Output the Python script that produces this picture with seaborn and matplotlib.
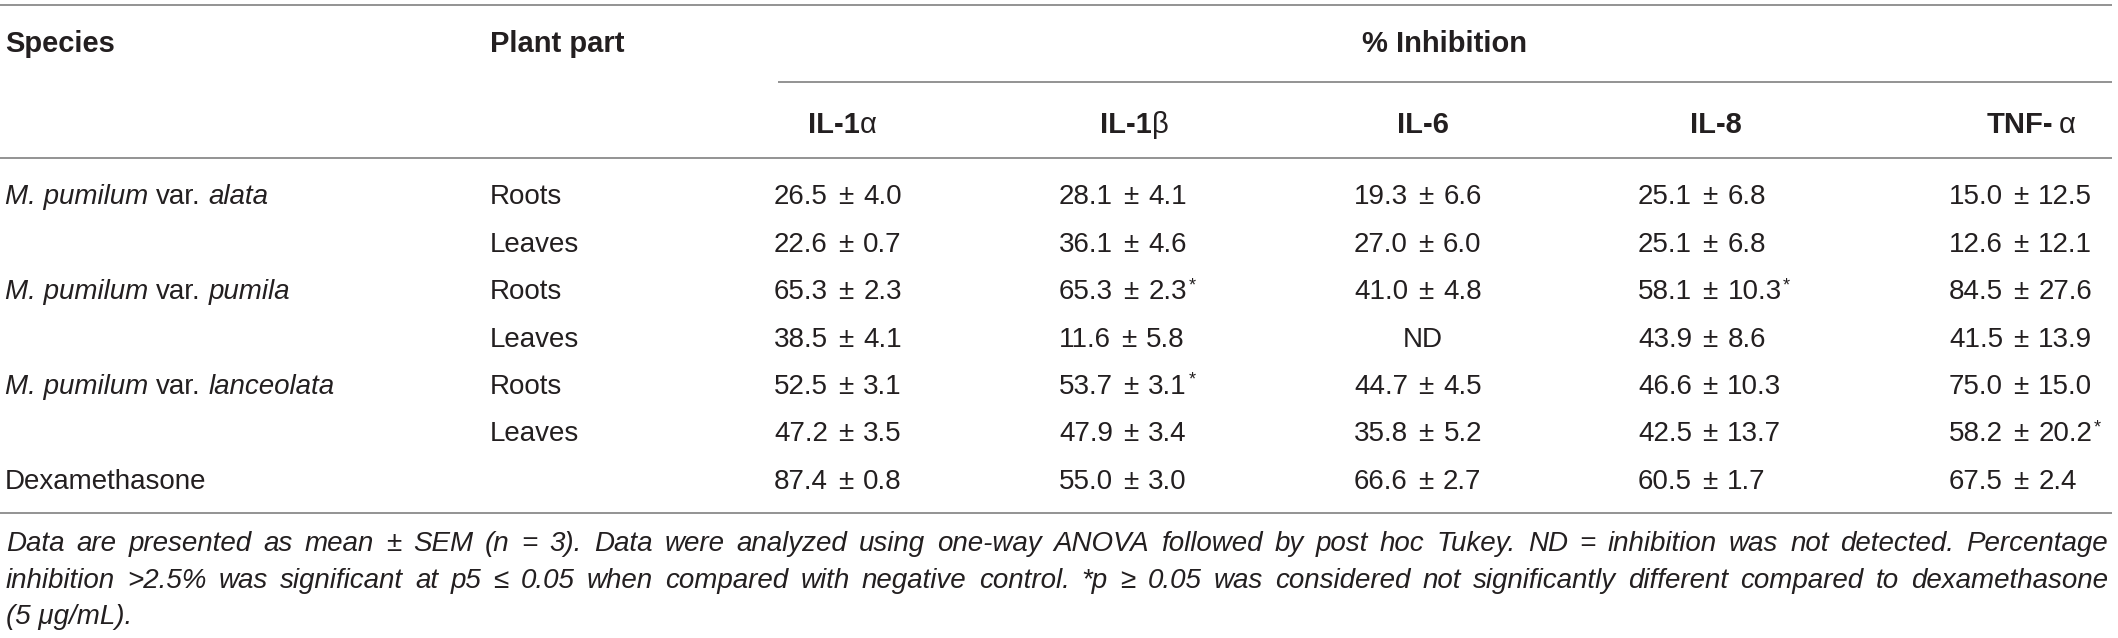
import numpy as np
import pandas as pd
import matplotlib
matplotlib.use("Agg")
import matplotlib.pyplot as plt
import seaborn as sns

# ---------------- data ----------------
species_prefix = "M. pumilum"
species_vars = ["alata", "pumila", "lanceolata"]
control_name = "Dexamethasone"
plant_parts = ["Roots", "Leaves", "Roots", "Leaves", "Roots", "Leaves", ""]
row_species = ["alata", "", "pumila", "", "lanceolata", "", "Dexamethasone"]

cytokines = ["IL-1", "IL-1", "IL-6", "IL-8", "TNF- "]
cytokine_greek = ["α", "β", "", "", "α"]

il1a_mean = [26.5, 22.6, 65.3, 38.5, 52.5, 47.2, 87.4]
il1a_sem = [4.0, 0.7, 2.3, 4.1, 3.1, 3.5, 0.8]
il1a_star = [0, 0, 0, 0, 0, 0, 0]

il1b_mean = [28.1, 36.1, 65.3, 11.6, 53.7, 47.9, 55.0]
il1b_sem = [4.1, 4.6, 2.3, 5.8, 3.1, 3.4, 3.0]
il1b_star = [0, 0, 1, 0, 1, 0, 0]

il6_mean = [19.3, 27.0, 41.0, np.nan, 44.7, 35.8, 66.6]
il6_sem = [6.6, 6.0, 4.8, np.nan, 4.5, 5.2, 2.7]
il6_star = [0, 0, 0, 0, 0, 0, 0]

il8_mean = [25.1, 25.1, 58.1, 43.9, 46.6, 42.5, 60.5]
il8_sem = [6.8, 6.8, 10.3, 8.6, 10.3, 13.7, 1.7]
il8_star = [0, 0, 1, 0, 0, 0, 0]

tnf_mean = [15.0, 12.6, 84.5, 41.5, 75.0, 58.2, 67.5]
tnf_sem = [12.5, 12.1, 27.6, 13.9, 15.0, 20.2, 2.4]
tnf_star = [0, 0, 0, 0, 0, 1, 0]

header_species = "Species"
header_part = "Plant part"
header_group = "% Inhibition"
not_detected = "ND"

footnote_lines = [
    "Data are presented as mean ± SEM (n = 3). Data were analyzed using one-way ANOVA followed by post hoc Tukey. ND = inhibition was not detected. Percentage",
    "inhibition >2.5% was significant at p5 ≤ 0.05 when compared with negative control. *p ≥ 0.05 was considered not significantly different compared to dexamethasone",
    "(5 μg/mL).",
]

means = [il1a_mean, il1b_mean, il6_mean, il8_mean, tnf_mean]
sems = [il1a_sem, il1b_sem, il6_sem, il8_sem, tnf_sem]
stars = [il1a_star, il1b_star, il6_star, il8_star, tnf_star]

records = []
for ci in range(len(cytokines)):
    for ri in range(len(plant_parts)):
        records.append(dict(col=ci, row=ri, mean=means[ci][ri],
                            sem=sems[ci][ri], star=stars[ci][ri]))
df = pd.DataFrame(records)

# ---------------- style ----------------
sns.set_theme(style="white")
plt.rcParams["font.family"] = ["Liberation Sans", "DejaVu Sans"]

W, H = 2118, 638
fig = plt.figure(figsize=(W / 100, H / 100), dpi=100)
ax = fig.add_axes([0, 0, 1, 1])
ax.set_xlim(0, W)
ax.set_ylim(H, 0)
ax.axis("off")
renderer = fig.canvas.get_renderer()

TXT = "#231f20"
LINE = "#8a8a8a"
BODY = 20
HEAD = 21
FOOT = 20

normal = dict(fontsize=BODY, color=TXT)
italic = dict(fontsize=BODY, color=TXT, style="italic")
bold = dict(fontsize=HEAD, color=TXT, weight="bold")
bold_reg = dict(fontsize=HEAD, color=TXT)
foot = dict(fontsize=FOOT, color=TXT, style="italic")


def measure(txt, **kw):
    t = ax.text(0, 0, txt, **kw)
    w = t.get_window_extent(renderer).width
    t.remove()
    return w


def draw_runs(x, y, runs, ha="left"):
    widths = []
    for r in runs:
        if isinstance(r, (int, float)):
            widths.append(r)
        else:
            widths.append(measure(r[0], **r[1]))
    total = sum(widths)
    if ha == "center":
        x = x - total / 2
    for r, w in zip(runs, widths):
        if not isinstance(r, (int, float)):
            ax.text(x, y, r[0], ha="left", va="baseline", **r[1])
        x += w
    return x


# ---------------- rules ----------------
x_left, x_right = 0, 2112
ax.hlines([5, 158, 513], x_left, x_right, color=LINE, lw=1.3)
ax.hlines(82, 778, x_right, color=LINE, lw=1.3)

# ---------------- headers ----------------
draw_runs(5, 52, [(header_species, bold)])
draw_runs(490, 52, [(header_part, bold)])
draw_runs(1445, 52, [(header_group, bold)], ha="center")

col_centers = [842, 1134, 1423, 1716, 2031]
for cx, name, g in zip(col_centers, cytokines, cytokine_greek):
    runs = [(name.strip(), bold)]
    if name.endswith(" "):
        runs.append(6)
    if g:
        runs.append((g, bold_reg))
    draw_runs(cx, 133, runs, ha="center")

# ---------------- body ----------------
row_y0, row_step = 204.5, 47.35
space = 7.8
for ri, (sp, part) in enumerate(zip(row_species, plant_parts)):
    y = row_y0 + ri * row_step
    if sp == control_name:
        draw_runs(5, y, [(sp, normal)])
    elif sp:
        draw_runs(5, y, [(species_prefix, italic), space, ("var.", normal),
                         space, (sp, italic)])
    if part:
        draw_runs(490, y, [(part, normal)])

col_starts = [774, 1059, 1354, 1638, 1949]
for _, r in df.iterrows():
    ci, ri = int(r["col"]), int(r["row"])
    y = row_y0 + ri * row_step
    if np.isnan(r["mean"]):
        draw_runs(col_centers[ci], y, [(not_detected, normal)], ha="center")
        continue
    xe = draw_runs(col_starts[ci], y, [(f"{r['mean']:.1f}", normal), 10,
                                        ("±", normal), 10,
                                        (f"{r['sem']:.1f}", normal)])
    if r["star"]:
        ax.text(xe + 1.5, y - 9, "*", ha="left", va="baseline",
                fontsize=13, color=TXT)

# ---------------- footnote ----------------
foot_y = [551, 588, 624]
target_right = 2108
for li, (line, y) in enumerate(zip(footnote_lines, foot_y)):
    if li < 2:
        words = line.split(" ")
        ws = [measure(w, **foot) for w in words]
        gap = (target_right - 6 - sum(ws)) / (len(words) - 1)
        x = 6
        for w, wd in zip(words, ws):
            ax.text(x, y, w, ha="left", va="baseline", **foot)
            x += wd + gap
    else:
        ax.text(6, y, line, ha="left", va="baseline", **foot)

fig.savefig("out.png", dpi=100, facecolor="white")
